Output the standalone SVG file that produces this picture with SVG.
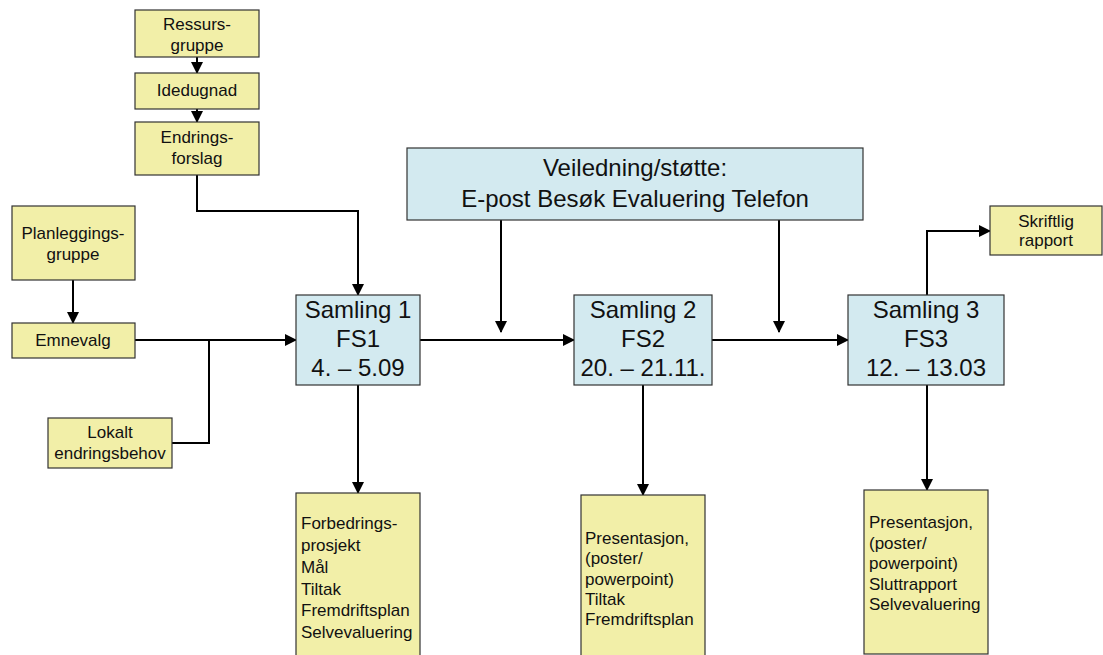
<svg xmlns="http://www.w3.org/2000/svg" width="1103" height="655" viewBox="0 0 1103 655">
<style>
.y{fill:#F2EFA8;stroke:#333;stroke-width:1.2}
.b{fill:#D3EAF0;stroke:#333;stroke-width:1.2}
.t{font-family:"Liberation Sans",Arial,sans-serif;font-size:17px;fill:#111}
.c{text-anchor:middle}
.L{font-family:"Liberation Sans",Arial,sans-serif;font-size:24px;fill:#111;text-anchor:middle}
.k{fill:none;stroke:#000;stroke-width:2}
</style>
<defs>
<marker id="a" markerUnits="userSpaceOnUse" markerWidth="12" markerHeight="12" refX="11" refY="6" orient="auto" viewBox="0 0 12 12">
<path d="M0,0 L12,6 L0,12 z" fill="#000"/>
</marker>
</defs>
<g id="connectors">
<path class="k" d="M197 57 V73" marker-end="url(#a)"/>
<path class="k" d="M197 109 V122" marker-end="url(#a)"/>
<path class="k" d="M197 175 V211 H358 V295" marker-end="url(#a)"/>
<path class="k" d="M73 280 V323" marker-end="url(#a)"/>
<path class="k" d="M135 340 H296" marker-end="url(#a)"/>
<path class="k" d="M172 443 H209 V340"/>
<path class="k" d="M420 340 H574" marker-end="url(#a)"/>
<path class="k" d="M712 340 H848" marker-end="url(#a)"/>
<path class="k" d="M501 220 V332" marker-end="url(#a)"/>
<path class="k" d="M779 220 V332" marker-end="url(#a)"/>
<path class="k" d="M927 295 V231 H990" marker-end="url(#a)"/>
<path class="k" d="M358 385 V493" marker-end="url(#a)"/>
<path class="k" d="M643 385 V495" marker-end="url(#a)"/>
<path class="k" d="M927 385 V490" marker-end="url(#a)"/>
</g>
<g id="ressurs"><rect class="y" x="135" y="10" width="124" height="47"/>
<text class="t c" x="197" y="30">Ressurs-</text><text class="t c" x="197" y="51">gruppe</text></g>
<g id="idedugnad"><rect class="y" x="135" y="73" width="124" height="36"/>
<text class="t c" x="197" y="96">Idedugnad</text></g>
<g id="endrings"><rect class="y" x="135" y="122" width="124" height="53"/>
<text class="t c" x="197" y="143">Endrings-</text><text class="t c" x="197" y="164">forslag</text></g>
<g id="planlegging"><rect class="y" x="12" y="206" width="123" height="74"/>
<text class="t c" x="73" y="239">Planleggings-</text><text class="t c" x="73" y="260">gruppe</text></g>
<g id="emnevalg"><rect class="y" x="12" y="323" width="123" height="35"/>
<text class="t c" x="73" y="346">Emnevalg</text></g>
<g id="lokalt"><rect class="y" x="48" y="418" width="124" height="50"/>
<text class="t c" x="110" y="438">Lokalt</text><text class="t c" x="110" y="459">endringsbehov</text></g>
<g id="veiledning"><rect class="b" x="407" y="148" width="456" height="72"/>
<text class="L" x="635" y="176">Veiledning/støtte:</text><text class="L" x="635" y="207">E-post Besøk Evaluering Telefon</text></g>
<g id="samling1"><rect class="b" x="296" y="295" width="124" height="90"/>
<text class="L" x="358" y="318">Samling 1</text><text class="L" x="358" y="347">FS1</text><text class="L" x="358" y="376">4. – 5.09</text></g>
<g id="samling2"><rect class="b" x="574" y="295" width="138" height="90"/>
<text class="L" x="643" y="318">Samling 2</text><text class="L" x="643" y="347">FS2</text><text class="L" x="643" y="376">20. – 21.11.</text></g>
<g id="samling3"><rect class="b" x="848" y="295" width="156" height="90"/>
<text class="L" x="926" y="318">Samling 3</text><text class="L" x="926" y="347">FS3</text><text class="L" x="926" y="376">12. – 13.03</text></g>
<g id="skriftlig"><rect class="y" x="990" y="206" width="112" height="49"/>
<text class="t c" x="1046" y="227">Skriftlig</text><text class="t c" x="1046" y="246">rapport</text></g>
<g id="ut1"><rect class="y" x="296" y="493" width="124" height="170"/>
<text class="t" x="301" y="529">Forbedrings-</text><text class="t" x="301" y="551">prosjekt</text><text class="t" x="301" y="573">Mål</text><text class="t" x="301" y="595">Tiltak</text><text class="t" x="301" y="616">Fremdriftsplan</text><text class="t" x="301" y="638">Selvevaluering</text></g>
<g id="ut2"><rect class="y" x="581" y="495" width="124" height="170"/>
<text class="t" x="585" y="544">Presentasjon,</text><text class="t" x="585" y="564">(poster/</text><text class="t" x="585" y="585">powerpoint)</text><text class="t" x="585" y="605">Tiltak</text><text class="t" x="585" y="625">Fremdriftsplan</text></g>
<g id="ut3"><rect class="y" x="864" y="490" width="124" height="164"/>
<text class="t" x="869" y="528">Presentasjon,</text><text class="t" x="869" y="549">(poster/</text><text class="t" x="869" y="569">powerpoint)</text><text class="t" x="869" y="590">Sluttrapport</text><text class="t" x="869" y="610">Selvevaluering</text></g>
</svg>
